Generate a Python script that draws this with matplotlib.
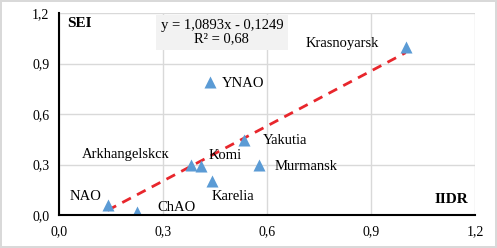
import matplotlib.pyplot as plt
import numpy as np

# Data
regions = ["NAO", "ChAO", "Arkhangelskск", "Komi", "Karelia", "YNAO", "Yakutia", "Murmansk", "Krasnoyarsk"]
iidr = [0.14, 0.225, 0.38, 0.41, 0.44, 0.435, 0.535, 0.577, 1.0]
sei = [0.06, 0.02, 0.30, 0.29, 0.20, 0.79, 0.445, 0.30, 1.0]
label_x = [0.03, 0.283, 0.065, 0.433, 0.44, 0.47, 0.588, 0.623, 0.71]
label_y = [0.11, 0.047, 0.36, 0.356, 0.11, 0.78, 0.44, 0.29, 1.02]
slope, intercept, r2 = 1.0893, -0.1249, 0.68
ticks = [0.0, 0.3, 0.6, 0.9, 1.2]

plt.rcParams['font.family'] = ['Liberation Serif', 'DejaVu Serif']

fig = plt.figure(figsize=(4.97, 2.48), dpi=100)
fig.patch.set_edgecolor('#d9d9d9')
fig.patch.set_linewidth(1.5)
ax = fig.add_axes([59 / 497, 1 - 215 / 248, 416 / 497, 202 / 248])

ax.scatter(iidr, sei, marker='^', s=75, color='#5b9bd5', zorder=3, linewidths=0)

# Trend line
xs = np.array([min(iidr), max(iidr)])
ax.plot(xs, slope * xs + intercept, color='#e8262c', lw=2, ls=(0, (3.5, 2.5)), zorder=2)

for name, lx, ly in zip(regions, label_x, label_y):
    ax.text(lx, ly, name, fontsize=10.5, ha='left', va='center')

ax.text(0.47, 1.085, "y = 1,0893x - 0,1249\nR² = 0,68", fontsize=10.5, ha='center', va='center',
        linespacing=1.0, bbox=dict(boxstyle='square,pad=0.3', fc='#f2f2f2', ec='none'))
ax.text(0.025, 1.14, "SEI", fontsize=11, fontweight='bold', ha='left', va='center')
ax.text(1.18, 0.09, "IIDR", fontsize=11, fontweight='bold', ha='right', va='center')

ax.set_xlim(0, 1.2)
ax.set_ylim(0, 1.2)
ax.set_xticks(ticks)
ax.set_yticks(ticks)
ax.set_xticklabels([f"{t:.1f}".replace('.', ',') for t in ticks], fontsize=10)
ax.set_yticklabels([f"{t:.1f}".replace('.', ',') for t in ticks], fontsize=10)
ax.tick_params(length=0, pad=7)
ax.grid(color='#d9d9d9', lw=1)
ax.set_axisbelow(True)
for s in ['top', 'right']:
    ax.spines[s].set_visible(False)
for s in ['left', 'bottom']:
    ax.spines[s].set_linewidth(1.5)
    ax.spines[s].set_zorder(4)

fig.savefig("out.png", dpi=100)
